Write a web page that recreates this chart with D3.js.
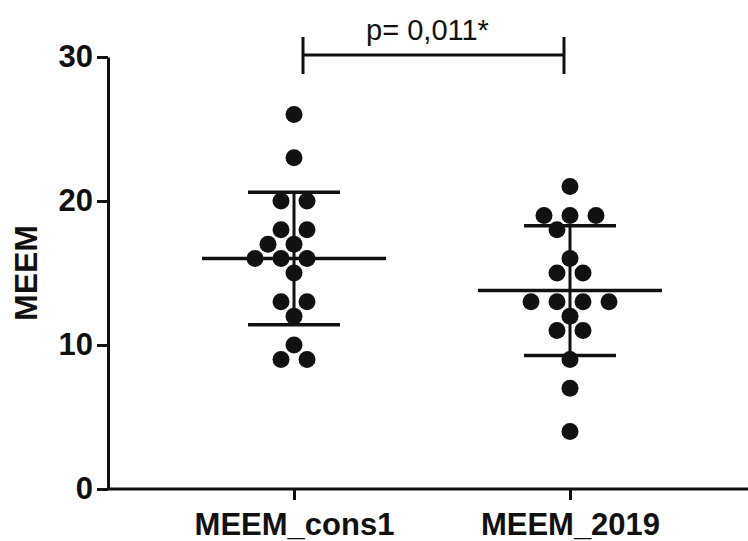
<!DOCTYPE html>
<html>
<head>
<meta charset="utf-8">
<script src="https://cdn.jsdelivr.net/npm/d3@7/dist/d3.min.js"></script>
<style>
  html, body { margin: 0; padding: 0; background: #fff; }
  svg { display: block; }
  text { font-family: Arial, "Liberation Sans", Helvetica, sans-serif; fill: #111; }
</style>
</head>
<body>
<svg id="chart" width="748" height="541"></svg>
<script>
// ---- data ----
const categories = ["MEEM_cons1", "MEEM_2019"];
const cons1Values = [26, 23, 20, 20, 18, 18, 17, 17, 16, 16, 16, 15, 13, 13, 12, 10, 9, 9];
const y2019Values = [21, 19, 19, 19, 18, 16, 15, 15, 13, 13, 13, 13, 12, 11, 11, 9, 7, 4];
const yTicks = [0, 10, 20, 30];
const yTitle = "MEEM";
const pLabel = "p= 0,011*";

// ---- layout ----
const W = 748, H = 541;
const svg = d3.select("#chart");
const ink = "#111";

const y = d3.scaleLinear().domain([0, 30]).range([489, 57]);
const x = d3.scalePoint().domain(categories).range([108, 756]).padding(0.674);

// axes
const yAxis = d3.axisLeft(y).tickValues(yTicks).tickSize(11).tickPadding(4).tickSizeOuter(0);
const gy = svg.append("g").attr("transform", "translate(108,0)").call(yAxis);
gy.selectAll("path, line").attr("stroke", ink).attr("stroke-width", 3);
gy.selectAll("text").attr("font-size", 31).attr("font-weight", "bold").attr("fill", ink)
  .attr("font-family", 'Arial, "Liberation Sans", sans-serif');

const xAxis = d3.axisBottom(x).tickSize(11).tickPadding(13).tickSizeOuter(0);
const gx = svg.append("g").attr("transform", "translate(0,489)").call(xAxis);
gx.select("path.domain").attr("d", "M108,0H748");
gx.selectAll("path, line").attr("stroke", ink).attr("stroke-width", 3);
gx.selectAll("text").attr("font-size", 31).attr("font-weight", "bold").attr("fill", ink)
  .attr("font-family", 'Arial, "Liberation Sans", sans-serif');

// y title
svg.append("text")
  .attr("transform", "translate(37,273) rotate(-90)")
  .attr("text-anchor", "middle")
  .attr("font-size", 32).attr("font-weight", "bold")
  .text(yTitle);

// swarm layout (points at same value spread horizontally, avoiding overlaps)
const R = 8.5, U = 13, MIN = 18;
function swarm(values, cx) {
  const rows = d3.groups(values, v => v).sort((a, b) => b[0] - a[0]);
  const placed = [];
  for (const [v, arr] of rows) {
    const n = arr.length;
    const base = d3.range(n).map(i => 2 * i - (n - 1));
    const cy = y(v);
    let shift = 0;
    for (const s of [0, -1, 1, -2, 2, -3, 3, -4, 4]) {
      const ok = base.every(b => placed.every(p =>
        Math.hypot(cx + (b + s) * U - p.x, cy - p.y) >= MIN));
      if (ok) { shift = s; break; }
    }
    base.forEach(b => placed.push({ x: cx + (b + shift) * U, y: cy, v }));
  }
  return placed;
}

const groups = [
  { name: categories[0], values: cons1Values },
  { name: categories[1], values: y2019Values }
];

groups.forEach(g => {
  const cx = x(g.name);
  const pts = swarm(g.values, cx);
  svg.append("g").selectAll("circle").data(pts).join("circle")
    .attr("cx", d => d.x).attr("cy", d => d.y).attr("r", R).attr("fill", ink);

  const m = d3.mean(g.values), sd = d3.deviation(g.values);
  const eg = svg.append("g").attr("stroke", ink).attr("fill", "none");
  // mean line
  eg.append("line").attr("x1", cx - 92).attr("x2", cx + 92)
    .attr("y1", y(m)).attr("y2", y(m)).attr("stroke-width", 3.5);
  // sd vertical
  eg.append("line").attr("x1", cx).attr("x2", cx)
    .attr("y1", y(m + sd)).attr("y2", y(m - sd)).attr("stroke-width", 3);
  // caps
  [m + sd, m - sd].forEach(v => {
    eg.append("line").attr("x1", cx - 46).attr("x2", cx + 46)
      .attr("y1", y(v)).attr("y2", y(v)).attr("stroke-width", 3.5);
  });
});

// significance bracket
const bx1 = x(categories[0]) + 9, bx2 = x(categories[1]) - 6, by = 55;
const bg = svg.append("g").attr("stroke", ink).attr("stroke-width", 3).attr("fill", "none");
bg.append("line").attr("x1", bx1).attr("x2", bx2).attr("y1", by).attr("y2", by);
bg.append("line").attr("x1", bx1).attr("x2", bx1).attr("y1", by - 18).attr("y2", by + 19);
bg.append("line").attr("x1", bx2).attr("x2", bx2).attr("y1", by - 18).attr("y2", by + 19);
svg.append("text")
  .attr("x", (bx1 + bx2) / 2 - 6).attr("y", 40)
  .attr("text-anchor", "middle")
  .attr("font-size", 29)
  .text(pLabel);
</script>
</body>
</html>
